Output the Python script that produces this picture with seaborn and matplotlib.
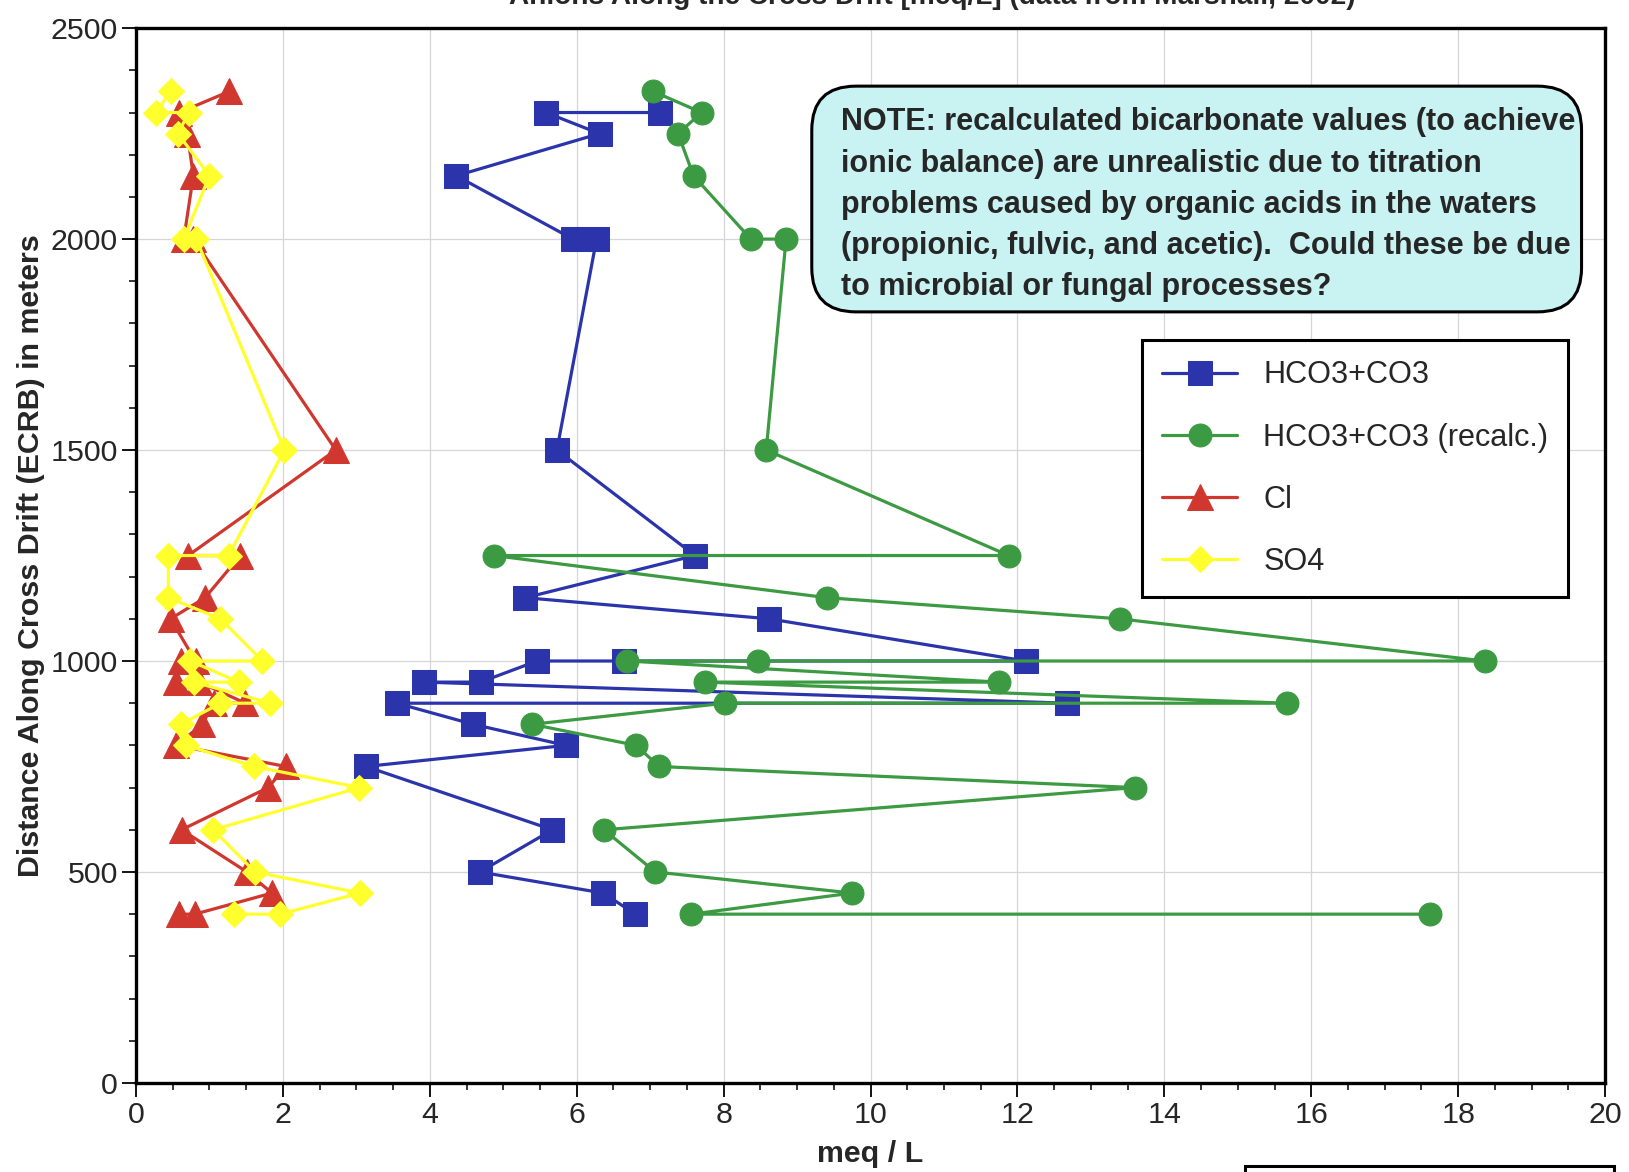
import numpy as np
import pandas as pd
import matplotlib
matplotlib.use("Agg")
import matplotlib.pyplot as plt
from matplotlib import font_manager as fm
from matplotlib.patches import FancyBboxPatch, Rectangle
from matplotlib.ticker import MultipleLocator
import seaborn as sns

# distance along cross drift (m) and concentration (meq/L)
hco3_dist = [2300, 2300, 2250, 2150, 2000, 2000, 1500, 1250, 1150, 1100, 1000, 1000,
             1000, 950, 950, 900, 900, 850, 800, 750, 600, 500, 450, 400]
hco3_val = [7.13, 5.58, 6.31, 4.36, 5.95, 6.27, 5.73, 7.61, 5.30, 8.62, 12.11, 6.64,
            5.46, 4.69, 3.92, 12.68, 3.55, 4.59, 5.85, 3.13, 5.67, 4.68, 6.36, 6.80]

recalc_dist = [2350, 2300, 2250, 2150, 2000, 2000, 1500, 1250, 1250, 1150, 1100, 1000,
               1000, 1000, 950, 950, 900, 900, 850, 800, 750, 700, 600, 500, 450, 400, 400]
recalc_val = [7.04, 7.70, 7.38, 7.59, 8.37, 8.85, 8.58, 11.88, 4.87, 9.41, 13.39, 18.36,
              8.47, 6.69, 11.75, 7.74, 15.67, 8.02, 5.39, 6.81, 7.12, 13.60, 6.37, 7.07,
              9.75, 7.56, 17.62]

cl_dist = [2350, 2300, 2250, 2150, 2000, 2000, 1500, 1250, 1250, 1150, 1100, 1000, 1000,
           950, 950, 900, 900, 850, 800, 750, 700, 600, 500, 450, 400, 400]
cl_val = [1.27, 0.59, 0.70, 0.78, 0.65, 0.78, 2.72, 0.71, 1.42, 0.94, 0.47, 0.81, 0.61,
          0.54, 0.86, 1.49, 1.06, 0.90, 0.55, 2.04, 1.80, 0.62, 1.51, 1.85, 0.80, 0.58]

so4_dist = [2350, 2300, 2300, 2250, 2150, 2000, 2000, 1500, 1250, 1250, 1150, 1100, 1000,
            1000, 950, 950, 900, 900, 850, 800, 750, 700, 600, 500, 450, 400, 400]
so4_val = [0.47, 0.27, 0.72, 0.57, 1.00, 0.65, 0.82, 2.02, 1.26, 0.44, 0.44, 1.15, 1.72,
           0.74, 1.40, 0.79, 1.83, 1.15, 0.61, 0.68, 1.61, 3.04, 1.05, 1.62, 3.05, 1.96, 1.33]

series_names = ['HCO3+CO3', 'HCO3+CO3 (recalc.)', 'Cl', 'SO4']

note = ("NOTE: recalculated bicarbonate values (to achieve\n"
        "ionic balance) are unrealistic due to titration\n"
        "problems caused by organic acids in the waters\n"
        "(propionic, fulvic, and acetic).  Could these be due\n"
        "to microbial or fungal processes?")

sns.set_style('white')
names = {f.name for f in fm.fontManager.ttflist}
narrow = 'Liberation Sans Narrow' if 'Liberation Sans Narrow' in names else 'Liberation Sans'
scale = 1.0 if narrow == 'Liberation Sans Narrow' else 0.84
plt.rcParams['font.family'] = [narrow, 'DejaVu Sans']

styles = [
    dict(color='#2b34aa', marker='s', markersize=17),
    dict(color='#3c9a42', marker='o', markersize=16.5),
    dict(color='#d0372f', marker='^', markersize=18.5),
    dict(color='#ffff2e', marker='D', markersize=13),
]
data = [(hco3_val, hco3_dist), (recalc_val, recalc_dist), (cl_val, cl_dist), (so4_val, so4_dist)]

fig = plt.figure(figsize=(16.29, 11.72), dpi=100)
ax = fig.add_axes([0.0835, 0.076, 0.9018, 0.9])

for (vals, dist), name, st in zip(data, series_names, styles):
    df = pd.DataFrame({'meq': vals, 'dist': dist})
    sns.lineplot(data=df, x='meq', y='dist', sort=False, estimator=None, ax=ax,
                 color=st['color'], marker=st['marker'], markersize=st['markersize'],
                 markeredgecolor=st['color'], linewidth=2.3, label=name)

ax.set_xlim(0, 20)
ax.set_ylim(0, 2500)
ax.xaxis.set_major_locator(MultipleLocator(2))
ax.xaxis.set_minor_locator(MultipleLocator(0.5))
ax.yaxis.set_major_locator(MultipleLocator(500))
ax.yaxis.set_minor_locator(MultipleLocator(100))
ax.grid(True, which='major', color='#d4d6da', linewidth=0.9)
ax.set_axisbelow(True)
ax.tick_params(which='major', direction='out', length=10, width=1.3, color='black',
               labelsize=26 * scale, pad=3, bottom=True, left=True)
ax.tick_params(which='minor', direction='out', length=5, width=1.1, color='black',
               bottom=True, left=True)
for s in ax.spines.values():
    s.set_color('black')
    s.set_linewidth(2.4)

ax.set_xlabel('meq / L', fontsize=26 * scale, fontweight='bold', labelpad=8)
ax.set_ylabel('Distance Along Cross Drift (ECRB) in meters', fontsize=26 * scale,
              fontweight='bold', labelpad=4)

leg = ax.legend(loc='upper right', bbox_to_anchor=(0.975, 0.704), fontsize=26.3 * scale,
                frameon=True, fancybox=False, framealpha=1, edgecolor='black',
                borderpad=0.65, labelspacing=1.05, handlelength=2.45, handletextpad=0.85,
                borderaxespad=0)
leg.get_frame().set_linewidth(2.2)

# rounded note box
ax_w = 0.9018 * 16.29
ax_h = 0.9 * 11.72
box = FancyBboxPatch((0.46, 0.731), 0.524, 0.214, transform=ax.transAxes,
                     boxstyle='round,pad=0,rounding_size=0.03', mutation_aspect=ax_w / ax_h,
                     facecolor='#c9f3f2', edgecolor='black', linewidth=2.2, zorder=5)
ax.add_patch(box)
ax.text(0.48, 0.925, note, transform=ax.transAxes, ha='left', va='top',
        fontsize=26.2 * scale, fontweight='bold', linespacing=1.49, zorder=6)

# title cut off by the scan edge, as in the source
fig.text(0.832, 0.9966, 'Anions Along the Cross Drift [meq/L] (data from Marshall, 2002)',
         ha='right', va='baseline', fontsize=24 * scale, fontweight='bold')
# partial box at bottom right edge of the scan
fig.patches.append(Rectangle((0.764, -0.05), 0.227, 0.055, transform=fig.transFigure,
                             fill=False, edgecolor='black', linewidth=2.2))

fig.savefig('out.png', dpi=100)
